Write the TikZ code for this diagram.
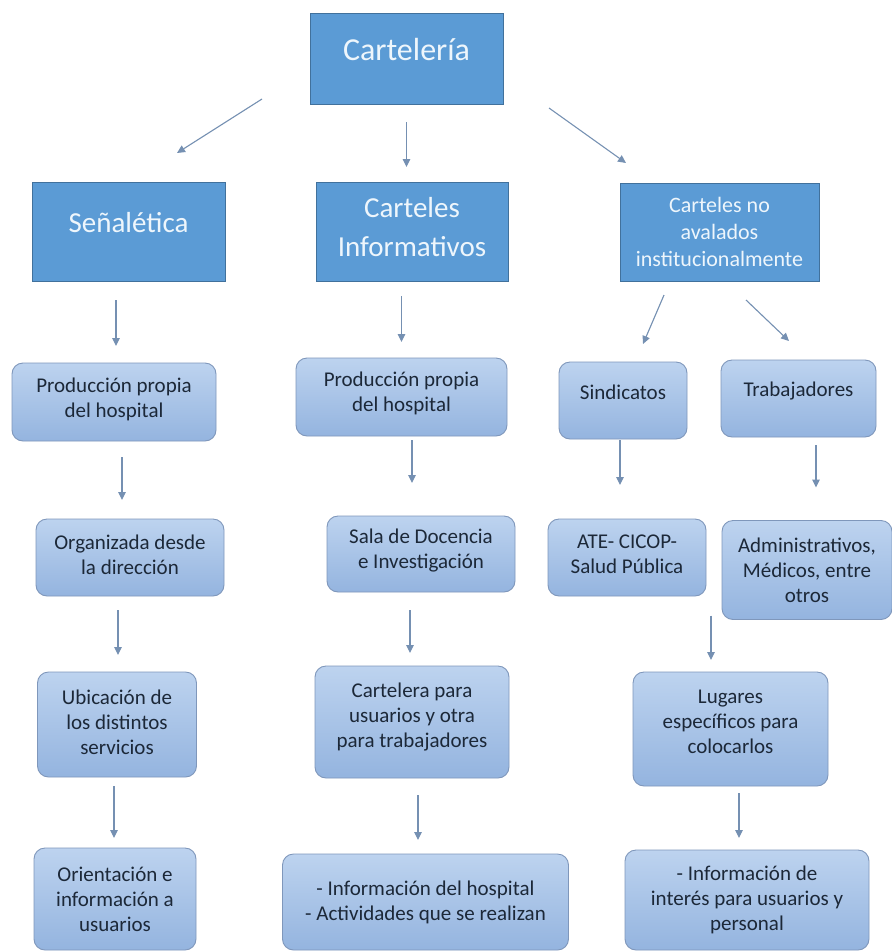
\documentclass[tikz,border=0pt]{standalone}
\usepackage{fontspec}
\setmainfont{Carlito}
\usetikzlibrary{arrows.meta,calc}
\definecolor{topfill}{HTML}{5B9BD5}
\definecolor{topline}{HTML}{41719C}
\definecolor{toptext}{HTML}{EEF6FC}
\definecolor{rtop}{HTML}{BDD3EF}
\definecolor{rbot}{HTML}{94B4DF}
\definecolor{rline}{HTML}{7F97BB}
\definecolor{rtext}{HTML}{1C2838}
\definecolor{arrcol}{HTML}{7590B2}
\newcommand{\dnrule}[1]{\rule[-#1pt]{0pt}{#1pt}}
\begin{document}
\begin{tikzpicture}[x=1pt,y=-1pt,
  topbox/.style={draw=topline, fill=topfill, text=toptext, line width=1pt, inner sep=0pt, outer sep=0pt, align=center},
  rbox/.style={draw=rline, top color=rtop, bottom color=rbot, text=rtext, line width=0.9pt, rounded corners=11pt, inner sep=0pt, outer sep=0pt, align=center, font=\fontsize{21}{25}\selectfont},
  arr/.style={draw=arrcol, line width=1.1pt, -{Triangle[length=8pt,width=7.5pt]}}
]
\useasboundingbox (0,0) rectangle (892,951);
\fill[white] (0,0) rectangle (892,951);

% level 1 and 2
\node[topbox, minimum width=193pt, minimum height=91pt, font=\fontsize{32}{38}\selectfont] (cart) at (406.5,58.5) {Cartelería\dnrule{19}};
\node[topbox, minimum width=193pt, minimum height=99pt, font=\fontsize{29}{39}\selectfont] (sen) at (128.5,231.5) {Señalética\dnrule{19}};
\node[topbox, minimum width=192pt, minimum height=99pt, font=\fontsize{29}{39}\selectfont] (info) at (412,231.5) {Carteles\\Informativos\dnrule{9}};
\node[topbox, minimum width=199pt, minimum height=98pt, font=\fontsize{22}{27}\selectfont] (noav) at (719.5,232) {Carteles no\\avalados\\institucionalmente};

% level 3
\node[rbox, minimum width=204pt, minimum height=78pt] (prod1) at (114,402) {Producción propia\\del hospital\dnrule{9}};
\node[rbox, minimum width=211pt, minimum height=78pt] (prod2) at (401.5,397) {Producción propia\\del hospital\dnrule{10}};
\node[rbox, minimum width=128pt, minimum height=77pt] (sind) at (623,400.5) {Sindicatos\dnrule{17}};
\node[rbox, minimum width=155pt, minimum height=77pt] (trab) at (798.5,398.5) {Trabajadores\dnrule{19}};

% level 4
\node[rbox, minimum width=188pt, minimum height=77pt] (org) at (130,557.5) {Organizada desde\\la dirección\dnrule{6}};
\node[rbox, minimum width=188pt, minimum height=76pt] (sala) at (421,554) {Sala de Docencia\\e Investigación\dnrule{11}};
\node[rbox, minimum width=158pt, minimum height=77pt] (ate) at (627,557.5) {ATE- CICOP-\\Salud Pública\dnrule{6}};
\node[rbox, minimum width=170pt, minimum height=99pt] (adm) at (807,570) {Administrativos,\\Médicos, entre\\otros};

% level 5
\node[rbox, minimum width=159pt, minimum height=105pt] (ubi) at (117,724.5) {Ubicación de\\los distintos\\servicios\dnrule{5}};
\node[rbox, minimum width=194pt, minimum height=112pt] (cartl) at (412,722) {Cartelera para\\usuarios y otra\\para trabajadores\dnrule{13}};
\node[rbox, minimum width=195pt, minimum height=114pt] (lug) at (730.5,729) {Lugares\\específicos para\\colocarlos\dnrule{14}};

% level 6
\node[rbox, minimum width=162pt, minimum height=102pt] (ori) at (115,899) {Orientación e\\información a\\usuarios};
\node[rbox, minimum width=286pt, minimum height=96pt] (infh) at (425.5,902) {- Información del hospital\\- Actividades que se realizan};
\node[rbox, minimum width=244pt, minimum height=100pt] (infi) at (747,900) {- Información de\\interés para usuarios y\\personal};

% connectors
\draw[arr] ($(cart.south west)+(-48,-5)$) -- ($(sen.north)+(48.5,-29)$);
\draw[arr] ($(cart.south)+(0,18)$) -- ($(info.north)+(-5.5,-15)$);
\draw[arr] ($(cart.south east)+(46,4)$) -- ($(noav.north west)+(6,-20)$);

\draw[arr] ($(sen.south)+(-12.5,19)$) -- ($(prod1.north)+(2,-17)$);
\draw[arr] ($(info.south)+(-10.5,15)$) -- ($(prod2.north)+(0,-16)$);
\draw[arr] ($(noav.south)+(-55.5,14)$) -- ($(sind.north)+(20,-18)$);
\draw[arr] ($(noav.south)+(26.5,19)$) -- ($(trab.north)+(-9.5,-19)$);

\draw[arr] ($(prod1.south)+(8,16)$) -- ($(org.north)+(-8,-19)$);
\draw[arr] ($(prod2.south)+(10.5,4)$) -- ($(sala.north)+(-9,-33)$);
\draw[arr] ($(sind.south)+(-3,1)$) -- ($(ate.north)+(-7,-34)$);
\draw[arr] ($(trab.south)+(17.5,8)$) -- ($(adm.north)+(9,-33)$);

\draw[arr] ($(org.south)+(-12,14)$) -- ($(ubi.north)+(1,-17)$);
\draw[arr] ($(sala.south)+(-11,18)$) -- ($(cartl.north)+(-2,-13)$);
\coordinate (join) at ($(adm.south west)+(-11,-4)$);
\draw[arr] (join) -- ($(lug.north)+(-19.5,-12)$);

\draw[arr] ($(ubi.south)+(-3,9)$) -- ($(ori.north)+(-1,-10)$);
\draw[arr] ($(cartl.south)+(6,17)$) -- ($(infh.north)+(-7.5,-14)$);
\draw[arr] ($(lug.south)+(8.5,7)$) -- ($(infi.north)+(-8,-12)$);
\end{tikzpicture}
\end{document}
